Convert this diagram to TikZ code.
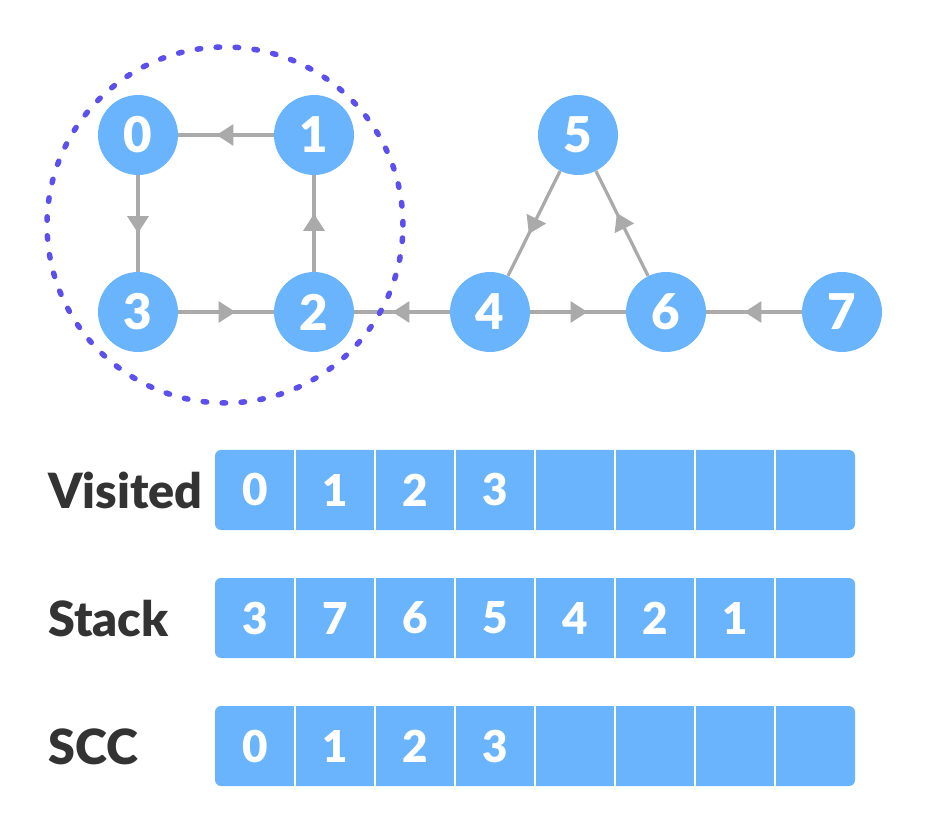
\documentclass[tikz,border=0pt]{standalone}
\usepackage{fontspec}
\setmainfont{Lato}[BoldFont={Lato Black}]
\usetikzlibrary{arrows.meta, decorations.markings}
\definecolor{vblue}{HTML}{69B4FC}
\definecolor{egray}{HTML}{AAAAAA}
\definecolor{sccdot}{HTML}{5B50EE}
\definecolor{labeltext}{HTML}{333333}

\begin{document}
\begin{tikzpicture}[x=0.02cm, y=-0.02cm,
  vertex/.style={circle, fill=vblue, minimum size=1.6cm, inner sep=0pt, text=white,
    font=\fontsize{28}{28}\selectfont\bfseries},
  edge/.style={draw=egray, line width=0.065cm, postaction={decorate},
    decoration={markings, mark=at position 0.6 with {\arrow[egray]{Triangle[length=0.34cm, width=0.42cm]}}}},
  cell/.style={text=white, inner sep=0pt, font=\fontsize{25}{25}\selectfont\bfseries},
  rowlabel/.style={anchor=base west, inner sep=0pt, text=labeltext,
    font=\fontsize{27.6}{27.6}\selectfont\bfseries}]
\useasboundingbox (0,0) rectangle (930,834);
\path
(138,135) node[vertex] (n0) {0}
(314,135) node[vertex] (n1) {1}
(314,312) node[vertex] (n2) {2}
(138,312) node[vertex] (n3) {3}
(490,312) node[vertex] (n4) {4}
(578,135) node[vertex] (n5) {5}
(666,312) node[vertex] (n6) {6}
(842,312) node[vertex] (n7) {7};
\draw[edge] (n1)--(n0);
\draw[edge] (n0)--(n3);
\draw[edge] (n3)--(n2);
\draw[edge] (n2)--(n1);
\draw[edge] (n4)--(n2);
\draw[edge] (n4)--(n6);
\draw[edge] (n7)--(n6);
\draw[edge] (n5)--(n4);
\draw[edge] (n6)--(n5);
\draw[sccdot, line width=0.11cm, line cap=round, dash pattern=on 0.07cm off 0.31cm] (225,225) circle[radius=3.56cm];
\path
(48,508) node[rowlabel] (visited) {Visited}
(48,636) node[rowlabel] (stack) {Stack}
(48,764) node[rowlabel] (scc) {SCC};
\foreach \y in {450,578,706} {
  \fill[vblue, rounded corners=0.12cm] (215,\y) rectangle (855,\y+80);
  \foreach \i in {1,...,7} \draw[white, line width=0.04cm] (215+80*\i,\y)--(215+80*\i,\y+80);
}
\foreach \v [count=\i from 0] in {0,1,2,3} \path (255+80*\i,490) node[cell] (vis\i) {\v};
\foreach \v [count=\i from 0] in {3,7,6,5,4,2,1} \path (255+80*\i,618) node[cell] (stk\i) {\v};
\foreach \v [count=\i from 0] in {0,1,2,3} \path (255+80*\i,746) node[cell] (scc\i) {\v};
\end{tikzpicture}
\end{document}
